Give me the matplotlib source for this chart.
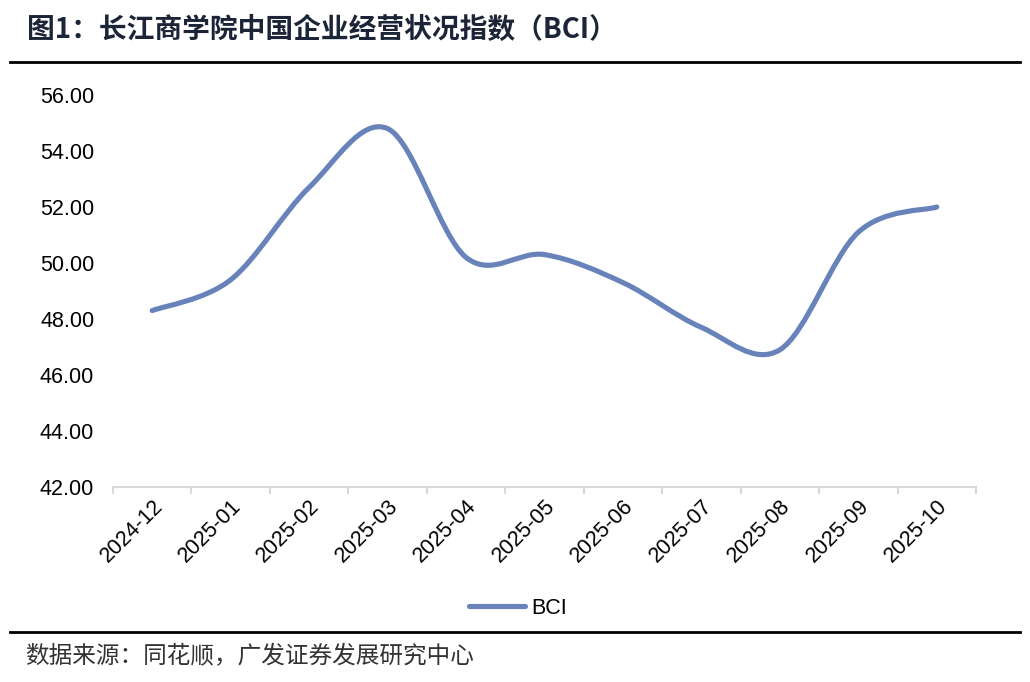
import matplotlib
matplotlib.use("Agg")
import matplotlib.pyplot as plt
from matplotlib.path import Path
from matplotlib.patches import PathPatch
from matplotlib.lines import Line2D

plt.rcParams['font.family'] = ['Liberation Sans', 'Noto Sans CJK SC', 'DejaVu Sans']

months = ['2024-12', '2025-01', '2025-02', '2025-03', '2025-04', '2025-05',
          '2025-06', '2025-07', '2025-08', '2025-09', '2025-10']
bci = [48.3, 49.4, 52.7, 54.8, 50.2, 50.3, 49.3, 47.7, 46.9, 51.1, 52.0]
yticks = [42, 44, 46, 48, 50, 52, 54, 56]

line_color = '#6783ba'

fig = plt.figure(figsize=(10.3, 6.82), dpi=100)
ax = fig.add_axes([113 / 1030, 1 - 487 / 682, (976 - 113) / 1030, (487 - 95) / 682])

# smoothed line like excel (catmull-rom as cubic bezier)
xs = list(range(len(bci)))
verts = [(xs[0], bci[0])]
codes = [Path.MOVETO]
n = len(bci)
for i in range(n - 1):
    y_prev = bci[i - 1] if i > 0 else bci[i]
    y_next2 = bci[i + 2] if i + 2 < n else bci[i + 1]
    x_prev = xs[i - 1] if i > 0 else xs[i]
    x_next2 = xs[i + 2] if i + 2 < n else xs[i + 1]
    c1 = (xs[i] + (xs[i + 1] - x_prev) / 6, bci[i] + (bci[i + 1] - y_prev) / 6)
    c2 = (xs[i + 1] - (x_next2 - xs[i]) / 6, bci[i + 1] - (y_next2 - bci[i]) / 6)
    verts += [c1, c2, (xs[i + 1], bci[i + 1])]
    codes += [Path.CURVE4] * 3
patch = PathPatch(Path(verts, codes), facecolor='none', edgecolor=line_color,
                  lw=3.7, capstyle='round', joinstyle='round')
ax.add_patch(patch)

ax.set_xlim(-0.5, len(months) - 0.5)
ax.set_ylim(42, 56)
ax.set_yticks(yticks)
ax.set_yticklabels([f'{v:.2f}' for v in yticks], fontsize=15.5)
ax.set_xticks([i - 0.5 for i in range(len(months) + 1)], minor=False)
ax.set_xticklabels([])
ax.set_xticks(xs, minor=True)
ax.set_xticklabels(months, minor=True, rotation=45, ha='right', va='top',
                   rotation_mode='anchor', fontsize=15.5)
ax.tick_params(axis='x', which='major', length=5, color='#d9d9d9', width=1.5)
ax.tick_params(axis='x', which='minor', length=0, pad=6)
ax.tick_params(axis='y', length=0, pad=13.5)
for s in ['top', 'right', 'left']:
    ax.spines[s].set_visible(False)
ax.spines['bottom'].set_color('#d9d9d9')
ax.spines['bottom'].set_linewidth(1.5)

handle = Line2D([], [], color=line_color, lw=3.7, solid_capstyle='round')
fig.legend([handle], ['BCI'], loc='center', bbox_to_anchor=(518 / 1030, 1 - 608 / 682),
           frameon=False, fontsize=15.5, handlelength=2.6, handletextpad=0.25)

fig.text(27 / 1030, 1 - 30 / 682, '图1：长江商学院中国企业经营状况指数（BCI）',
         fontsize=20, fontweight='bold', color='#1c2538', va='center', ha='left',
         family=['Noto Sans CJK SC', 'Liberation Sans'])
fig.add_artist(Line2D([10 / 1030, 1020 / 1030], [1 - 62 / 682, 1 - 62 / 682],
                      color='black', lw=2))
fig.add_artist(Line2D([10 / 1030, 1020 / 1030], [1 - 632 / 682, 1 - 632 / 682],
                      color='black', lw=2))
fig.text(25 / 1030, 1 - 657 / 682, '数据来源：同花顺，广发证券发展研究中心',
         fontsize=17, color='#333333', va='center', ha='left',
         family=['Noto Sans CJK SC', 'Liberation Sans'])

fig.savefig('out.png', dpi=100, facecolor='white')
